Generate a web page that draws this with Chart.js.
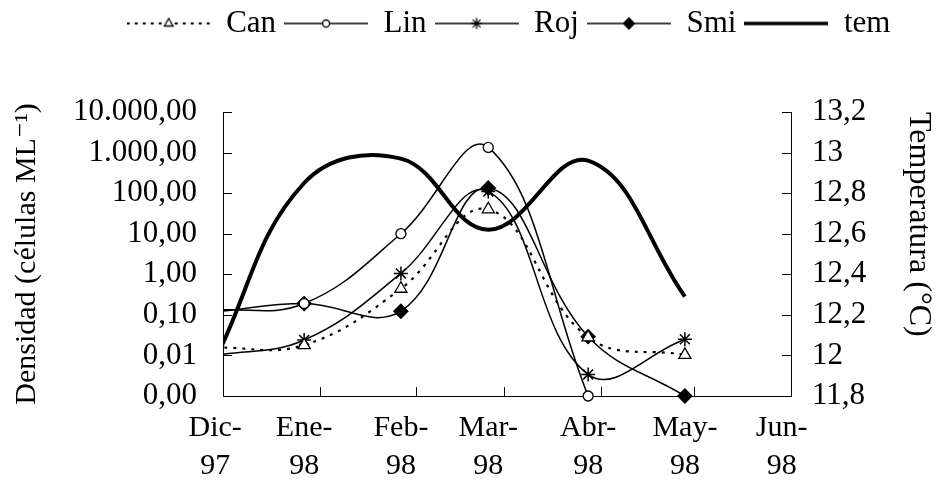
<!DOCTYPE html>
<html lang="es">
<head>
<meta charset="UTF-8">
<title>Densidad y temperatura, Dic-97 a Jun-98</title>
<script src="https://cdn.jsdelivr.net/npm/chart.js"></script>
<style>
  body { margin: 0; background: #fff; }
  #wrap { width: 945px; height: 501px; }
</style>
</head>
<body>
<div id="wrap"><canvas id="grafico" width="945" height="501"></canvas></div>
<script>
// Etiquetas de muestreo y su posición (días desde el 1 de diciembre de 1997)
const meses = [['Dic-', '97'], ['Ene-', '98'], ['Feb-', '98'], ['Mar-', '98'], ['Abr-', '98'], ['May-', '98'], ['Jun-', '98']];
const diaMuestreo = [-2.5, 26, 57, 85, 117, 148, 179];
const inicioMes = [0, 31, 62, 90, 121, 151, 182];

// Densidad (células ML-1)
const can = [0.0155, 0.018, 0.44, 40, 0.028, 0.0103];
const lin = [0.13, 0.19, 10, 1340, 0.001];
const roj = [0.0100, 0.024, 1.05, 110, 0.0034, 0.025];
const smi = [0.12, 0.19, 0.123, 134, 0.029, 0.001];
// Temperatura (ºC)
const tem = [11.98, 12.85, 12.97, 12.62, 12.96, 12.29];

const ticksDensidad = [0.001, 0.01, 0.1, 1, 10, 100, 1000, 10000];

const FUENTE = "'Liberation Serif', 'DejaVu Serif', serif";
const NEGRO = '#000';

// 10000 -> "10.000,00"
function formatoEs(v, dec) {
  const partes = v.toFixed(dec).split('.');
  const entero = partes[0].replace(/\B(?=(\d{3})+(?!\d))/g, '.');
  return partes.length > 1 ? entero + ',' + partes[1] : entero;
}

const serie = vals => vals.map((v, i) => ({ x: diaMuestreo[i], y: v }));

// muestras de línea + marcador para la leyenda
function muestra(marca, discontinua, grosor) {
  const c = document.createElement('canvas');
  c.width = 84; c.height = 20;
  const g = c.getContext('2d');
  g.strokeStyle = NEGRO;
  g.lineWidth = grosor;
  if (discontinua) g.setLineDash([3, 5]);
  g.beginPath(); g.moveTo(0, 10); g.lineTo(84, 10); g.stroke();
  g.setLineDash([]);
  if (marca) {
    g.fillStyle = marca.fondo;
    g.lineWidth = 1.3;
    Chart.helpers.drawPoint(g, { pointStyle: marca.estilo, radius: marca.radio, rotation: 0, borderWidth: 1.3 }, 42, 10);
  }
  return c;
}
const muestras = [
  muestra({ estilo: 'triangle', radio: 5, fondo: '#fff' }, true, 1.8),
  muestra({ estilo: 'circle', radio: 3.5, fondo: '#fff' }, false, 1.5),
  muestra({ estilo: 'star', radio: 5.5, fondo: '#fff' }, false, 1.5),
  muestra({ estilo: 'rectRot', radio: 5.5, fondo: NEGRO }, false, 1.5),
  muestra(null, false, 3.5)
];

// la leyenda deja hueco hasta el área del gráfico y se desplaza a la derecha
const ajusteLeyenda = {
  id: 'ajusteLeyenda',
  beforeInit(chart) {
    const fitOriginal = chart.legend.fit;
    chart.legend.fit = function () {
      fitOriginal.bind(chart.legend)();
      this.height += 63;
    };
  },
  afterLayout(chart) {
    chart.legend.left += 36;
    chart.legend.right += 36;
  }
};

// marcas de graduación hacia dentro
const marcasInteriores = {
  id: 'marcasInteriores',
  afterDraw(chart) {
    const { ctx, chartArea: a, scales } = chart;
    const L = 9;
    ctx.save();
    ctx.strokeStyle = NEGRO;
    ctx.lineWidth = 1;
    ctx.beginPath();
    ticksDensidad.forEach(v => {
      const y = Math.round(scales.y.getPixelForValue(v)) + 0.5;
      ctx.moveTo(a.left, y); ctx.lineTo(a.left + L, y);
    });
    scales.y1.ticks.forEach(t => {
      const y = Math.round(scales.y1.getPixelForValue(t.value)) + 0.5;
      ctx.moveTo(a.right, y); ctx.lineTo(a.right - L, y);
    });
    inicioMes.forEach(d => {
      const x = Math.round(scales.x.getPixelForValue(d)) + 0.5;
      ctx.moveTo(x, a.bottom); ctx.lineTo(x, a.bottom - L);
    });
    ctx.stroke();
    ctx.restore();
  }
};

// recorte solo por la izquierda: el punto de diciembre queda fuera del eje
const recorte = { left: 0, top: false, right: false, bottom: false };
const base = { borderColor: NEGRO, tension: 0.4, clip: recorte, yAxisID: 'y', pointBorderColor: NEGRO, pointBorderWidth: 1.3 };

new Chart(document.getElementById('grafico'), {
  type: 'line',
  data: {
    datasets: [
      { ...base, label: 'Can', data: serie(can), borderWidth: 2.2, borderDash: [3, 6],
        pointStyle: 'triangle', pointRadius: 7, pointBackgroundColor: '#fff' },
      { ...base, label: 'Lin', data: serie(lin), borderWidth: 1.5,
        pointStyle: 'circle', pointRadius: 5, pointBackgroundColor: '#fff' },
      { ...base, label: 'Roj', data: serie(roj), borderWidth: 1.5,
        pointStyle: 'star', pointRadius: 7, pointBackgroundColor: '#fff', pointBorderWidth: 1.5 },
      { ...base, label: 'Smi', data: serie(smi), borderWidth: 1.5,
        pointStyle: 'rectRot', pointRadius: 7, pointBackgroundColor: NEGRO },
      { ...base, label: 'tem', data: serie(tem), yAxisID: 'y1', borderWidth: 4, pointRadius: 0 }
    ]
  },
  options: {
    responsive: false,
    animation: false,
    devicePixelRatio: 1,
    layout: { padding: 0 },
    plugins: {
      tooltip: { enabled: false },
      legend: {
        position: 'top',
        labels: {
          color: NEGRO,
          font: { family: FUENTE, size: 31 },
          usePointStyle: true,
          pointStyleWidth: 84,
          padding: 8,
          generateLabels(chart) {
            const items = Chart.defaults.plugins.legend.labels.generateLabels(chart);
            items.forEach((it, i) => { it.pointStyle = muestras[i]; it.rotation = 0; });
            return items;
          }
        }
      }
    },
    scales: {
      x: {
        type: 'linear',
        min: 0,
        max: 182,
        afterBuildTicks: s => { s.ticks = diaMuestreo.map(v => ({ value: v })); },
        afterFit: s => { s.height = 105; },
        ticks: {
          color: NEGRO,
          autoSkip: false,
          maxRotation: 0,
          padding: 13,
          font: { family: FUENTE, size: 30, lineHeight: 1.28 },
          callback: (v, i) => meses[i]
        },
        grid: { display: false, drawTicks: false },
        border: { display: true, color: NEGRO, width: 1 }
      },
      y: {
        type: 'logarithmic',
        position: 'left',
        min: 0.001,
        max: 10000,
        afterBuildTicks: s => { s.ticks = ticksDensidad.map(v => ({ value: v })); },
        afterFit: s => { s.width = 223; },
        ticks: {
          color: NEGRO,
          padding: 26,
          font: { family: FUENTE, size: 31 },
          callback: v => formatoEs(v, 2)
        },
        grid: { display: false, drawTicks: false },
        border: { display: true, color: NEGRO, width: 1 },
        title: {
          display: true,
          text: 'Densidad (células ML⁻¹)',
          color: NEGRO,
          font: { family: FUENTE, size: 30 },
          padding: { top: 9, bottom: 0 }
        }
      },
      y1: {
        type: 'linear',
        position: 'right',
        min: 11.8,
        max: 13.2,
        afterFit: s => { s.width = 154; },
        ticks: {
          color: NEGRO,
          stepSize: 0.2,
          padding: 21,
          font: { family: FUENTE, size: 31 },
          callback: v => String(parseFloat(v.toFixed(1))).replace('.', ',')
        },
        grid: { display: false, drawTicks: false },
        border: { display: true, color: NEGRO, width: 1 },
        title: {
          display: true,
          text: 'Temperatura (°C)',
          align: 'end',
          color: NEGRO,
          font: { family: FUENTE, size: 32 },
          padding: { top: 7, bottom: 0 }
        }
      }
    }
  },
  plugins: [ajusteLeyenda, marcasInteriores]
});
</script>
</body>
</html>
